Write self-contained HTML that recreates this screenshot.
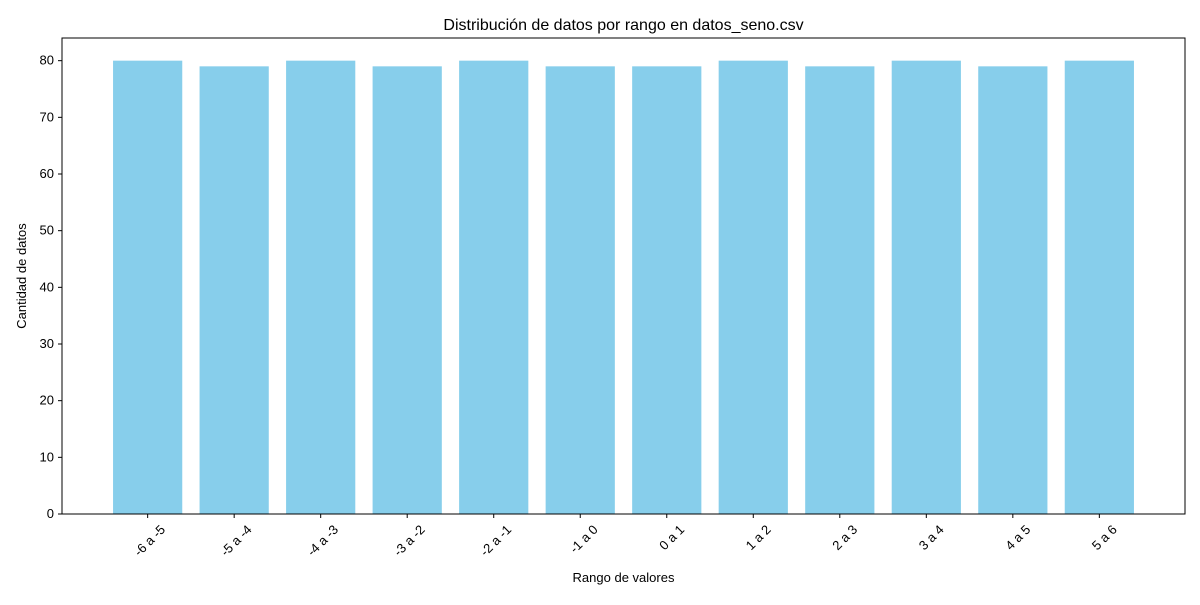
<!DOCTYPE html>
<html><head><meta charset="utf-8"><style>
body{margin:0;background:#fff;}
svg text{font-family:"Liberation Sans","DejaVu Sans",sans-serif;fill:#000;}
</style></head><body>
<svg id="chart" width="1200" height="600" xmlns="http://www.w3.org/2000/svg">
<rect width="1200" height="600" fill="#fff"/>
<text x="623.5" y="30" font-size="16" text-anchor="middle">Distribución de datos por rango en datos_seno.csv</text>
<g id="bars"></g>
<g id="yticks"></g>
<g id="xticks"></g>
<rect x="62" y="38" width="1123" height="476" fill="none" stroke="#000" stroke-width="1"/>
<text x="623.5" y="582" font-size="13" text-anchor="middle">Rango de valores</text>
<text transform="translate(26,276) rotate(-90)" font-size="13" text-anchor="middle">Cantidad de datos</text>
</svg>
<script>
const categories=["-6 a -5","-5 a -4","-4 a -3","-3 a -2","-2 a -1","-1 a 0","0 a 1","1 a 2","2 a 3","3 a 4","4 a 5","5 a 6"];
const counts=[80,79,80,79,80,79,79,80,79,80,79,80];
const yTicks=[0,10,20,30,40,50,60,70,80];
const NS="http://www.w3.org/2000/svg";
const L=62,R=1185,T=38,B=514;
const n=categories.length;
const xmin=-0.4-0.05*(n-1+0.8),xmax=n-1+0.4+0.05*(n-1+0.8);
const ymax=Math.max(...counts)*1.05;
function x(v){return L+(v-xmin)/(xmax-xmin)*(R-L);}
function y(v){return B-v/ymax*(B-T);}
function mk(t,a,p){const e=document.createElementNS(NS,t);for(const k in a)e.setAttribute(k,a[k]);p.appendChild(e);return e;}
const gb=document.getElementById('bars'),gy=document.getElementById('yticks'),gx=document.getElementById('xticks');
counts.forEach((c,i)=>{
 const r=mk('rect',{x:x(i-0.4),y:y(c),width:x(i+0.4)-x(i-0.4),height:y(0)-y(c),fill:'#87ceeb'},gb);
 
 
 const tk=mk('line',{x1:x(i),x2:x(i),y1:B,y2:B+4,stroke:'#000'},gx);
 
 
 const tx=x(i)+12,ty=B+10;
 const t=mk('text',{x:tx,y:ty+9,'font-size':13,'text-anchor':'end',transform:`rotate(-45 ${tx} ${ty})`},gx);
 t.textContent=categories[i];
 
 
});
yTicks.forEach(v=>{
 const tk=mk('line',{x1:L-4,x2:L,y1:y(v),y2:y(v),stroke:'#000'},gy);
 
 
 const t=mk('text',{x:L-8,y:y(v)+4,'font-size':13,'text-anchor':'end'},gy);
 t.textContent=v;
 
 
});
</script>
</body></html>
